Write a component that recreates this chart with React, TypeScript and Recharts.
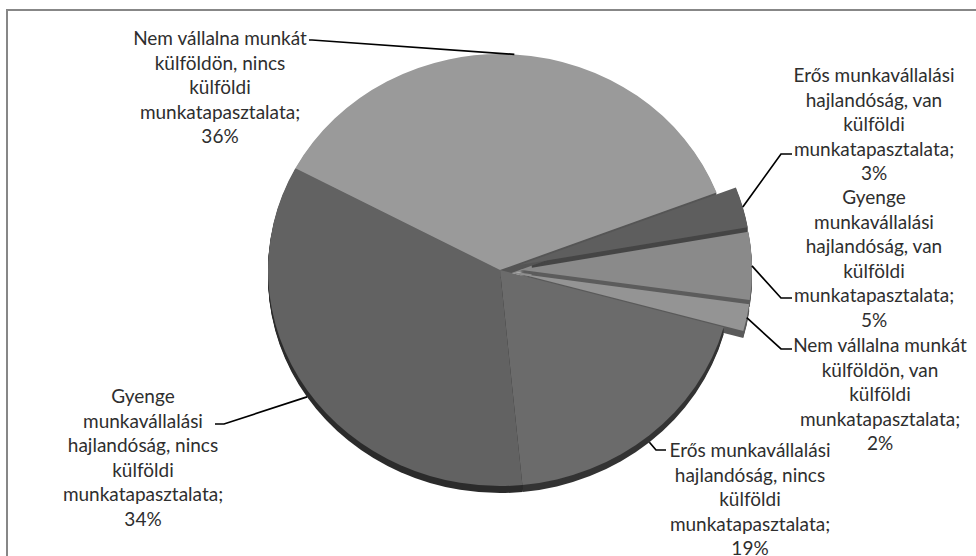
import React from 'react';
import { PieChart, Pie, Cell } from 'recharts';

// ---- data ----
const CATEGORIES: string[] = [
  'Erős munkavállalási\nhajlandóság, van\nkülföldi\nmunkatapasztalata',
  'Gyenge\nmunkavállalási\nhajlandóság, van\nkülföldi\nmunkatapasztalata',
  'Nem vállalna munkát\nkülföldön, van\nkülföldi\nmunkatapasztalata',
  'Erős munkavállalási\nhajlandóság, nincs\nkülföldi\nmunkatapasztalata',
  'Gyenge\nmunkavállalási\nhajlandóság, nincs\nkülföldi\nmunkatapasztalata',
  'Nem vállalna munkát\nkülföldön, nincs\nkülföldi\nmunkatapasztalata',
];
const VALUES: number[] = [3, 5, 2, 19, 34, 36];

// ---- styles ----
const FACE_COLORS = ['#5e5e5e', '#8a8a8a', '#949494', '#6b6b6b', '#626262', '#9a9a9a'];
const SIDE_COLORS = ['#454545', '#5c5c5c', '#5a5a5a', '#333333', '#2b2b2b', '#555555'];
const EXPLODED = [true, true, true, false, false, false];
const HOLLOW_COLOR = '#8c8c8c';
// label box layout: text centre x, first line centre y, leader hook (x1 -> x2 at y)
const LABEL_LAYOUT = [
  { x: 874, y: 74, hx1: 792, hx2: 781, hy: 154 },
  { x: 874, y: 196, hx1: 792, hx2: 781, hy: 298 },
  { x: 880, y: 344, hx1: 792, hx2: 781, hy: 349 },
  { x: 750, y: 449, hx1: 666, hx2: 656, hy: 450 },
  { x: 143, y: 395, hx1: 215, hx2: 224, hy: 424 },
  { x: 220, y: 37, hx1: 309, hx2: 312, hy: 40 },
];

const W = 976;
const H = 556;
const CX = 500;
const CY = 270;
const R = 232;
const K = 216 / 232; // vertical squash of the tilted pie
const DEPTH = 7;
const EXPLODE = 20;
const LINE_H = 24.5;
const RAD = Math.PI / 180;

const data = CATEGORIES.map((name, i) => ({ name, value: VALUES[i] }));

function idxOf(p: any): number {
  if (typeof p.index === 'number') return p.index;
  const nm = p.payload?.name ?? p.name;
  return CATEGORIES.indexOf(nm);
}

function sectorPath(cx: number, cy: number, r: number, a0: number, a1: number, dx: number, dy: number) {
  const pt = (a: number) => [cx + dx + r * Math.cos(a * RAD), cy + dy - r * K * Math.sin(a * RAD)];
  const [x0, y0] = pt(a0);
  const [x1, y1] = pt(a1);
  const large = Math.abs(a1 - a0) > 180 ? 1 : 0;
  const sweep = a1 < a0 ? 1 : 0;
  return `M${cx + dx},${cy + dy} L${x0},${y0} A${r},${r * K} 0 ${large} ${sweep} ${x1},${y1} Z`;
}

function explodeOffset(i: number, mid: number) {
  const off = EXPLODED[i] ? EXPLODE : 0;
  return [off * Math.cos(mid * RAD), -off * K * Math.sin(mid * RAD)];
}

const FaceShape = (p: any) => {
  const i = idxOf(p);
  const mid = (p.startAngle + p.endAngle) / 2;
  const [dx, dy] = explodeOffset(i, mid);
  return <path d={sectorPath(p.cx, p.cy, p.outerRadius, p.startAngle, p.endAngle, dx, dy)} fill={p.fill} stroke="none" />;
};

const SideShape = (p: any) => {
  const i = idxOf(p);
  const mid = (p.startAngle + p.endAngle) / 2;
  const [dx, dy] = explodeOffset(i, mid);
  const paths = [];
  if (EXPLODED[i]) {
    paths.push(
      <path key="hollow" d={sectorPath(p.cx, p.cy, EXPLODE * 1.6, p.startAngle, p.endAngle, 0, 0)} fill={HOLLOW_COLOR} stroke="none" />
    );
  }
  for (let d = 1; d <= DEPTH; d++) {
    paths.push(
      <path key={d} d={sectorPath(p.cx, p.cy, p.outerRadius, p.startAngle, p.endAngle, dx, dy + d)} fill={p.fill} stroke="none" />
    );
  }
  return <g>{paths}</g>;
};

const renderLabel = (p: any) => {
  const i = idxOf(p);
  const L = LABEL_LAYOUT[i];
  const mid = p.midAngle;
  const [dx, dy] = explodeOffset(i, mid);
  const ax = p.cx + dx + p.outerRadius * Math.cos(mid * RAD);
  let ay = p.cy + dy - p.outerRadius * K * Math.sin(mid * RAD);
  if (Math.sin(mid * RAD) < -0.3) ay += DEPTH;
  const lines = CATEGORIES[i].split('\n');
  lines[lines.length - 1] = lines[lines.length - 1] + ';';
  lines.push(`${Math.round(p.percent * 100)}%`);
  return (
    <g key={`lbl-${i}`}>
      <polyline
        points={`${L.hx1},${L.hy} ${L.hx2},${L.hy} ${ax},${ay}`}
        fill="none"
        stroke="#000"
        strokeWidth={1.7}
      />
      <text
        textAnchor="middle"
        dominantBaseline="central"
        fontFamily="Lato, 'Open Sans', sans-serif"
        fontSize={19}
        fill="#2e2e2e"
      >
        {lines.map((ln, j) => (
          <tspan key={j} x={L.x} y={L.y + j * LINE_H}>
            {ln}
          </tspan>
        ))}
      </text>
    </g>
  );
};

export default function App() {
  return (
    <div style={{ position: 'absolute', left: 0, top: 0, width: W, height: H, overflow: 'hidden', background: '#fff' }}>
      <div
        style={{
          position: 'absolute',
          left: 6,
          top: 9,
          width: 1100,
          height: 700,
          border: '2px solid #878787',
        }}
      />
      <div style={{ position: 'absolute', left: 0, top: 0 }}>
        <PieChart width={W} height={H} margin={{ top: 0, right: 0, bottom: 0, left: 0 }}>
          <Pie
            data={data}
            dataKey="value"
            nameKey="name"
            cx={CX}
            cy={CY}
            outerRadius={R}
            startAngle={21}
            endAngle={-339}
            isAnimationActive={false}
            shape={SideShape}
            activeShape={SideShape}
            inactiveShape={SideShape}
            label={false}
            labelLine={false}
            stroke="none"
          >
            {data.map((d, i) => (
              <Cell key={i} fill={SIDE_COLORS[i]} />
            ))}
          </Pie>
          <Pie
            data={data}
            dataKey="value"
            nameKey="name"
            cx={CX}
            cy={CY}
            outerRadius={R}
            startAngle={21}
            endAngle={-339}
            isAnimationActive={false}
            shape={FaceShape}
            activeShape={FaceShape}
            inactiveShape={FaceShape}
            label={renderLabel}
            labelLine={false}
            stroke="none"
          >
            {data.map((d, i) => (
              <Cell key={i} fill={FACE_COLORS[i]} />
            ))}
          </Pie>
        </PieChart>
      </div>
    </div>
  );
}
